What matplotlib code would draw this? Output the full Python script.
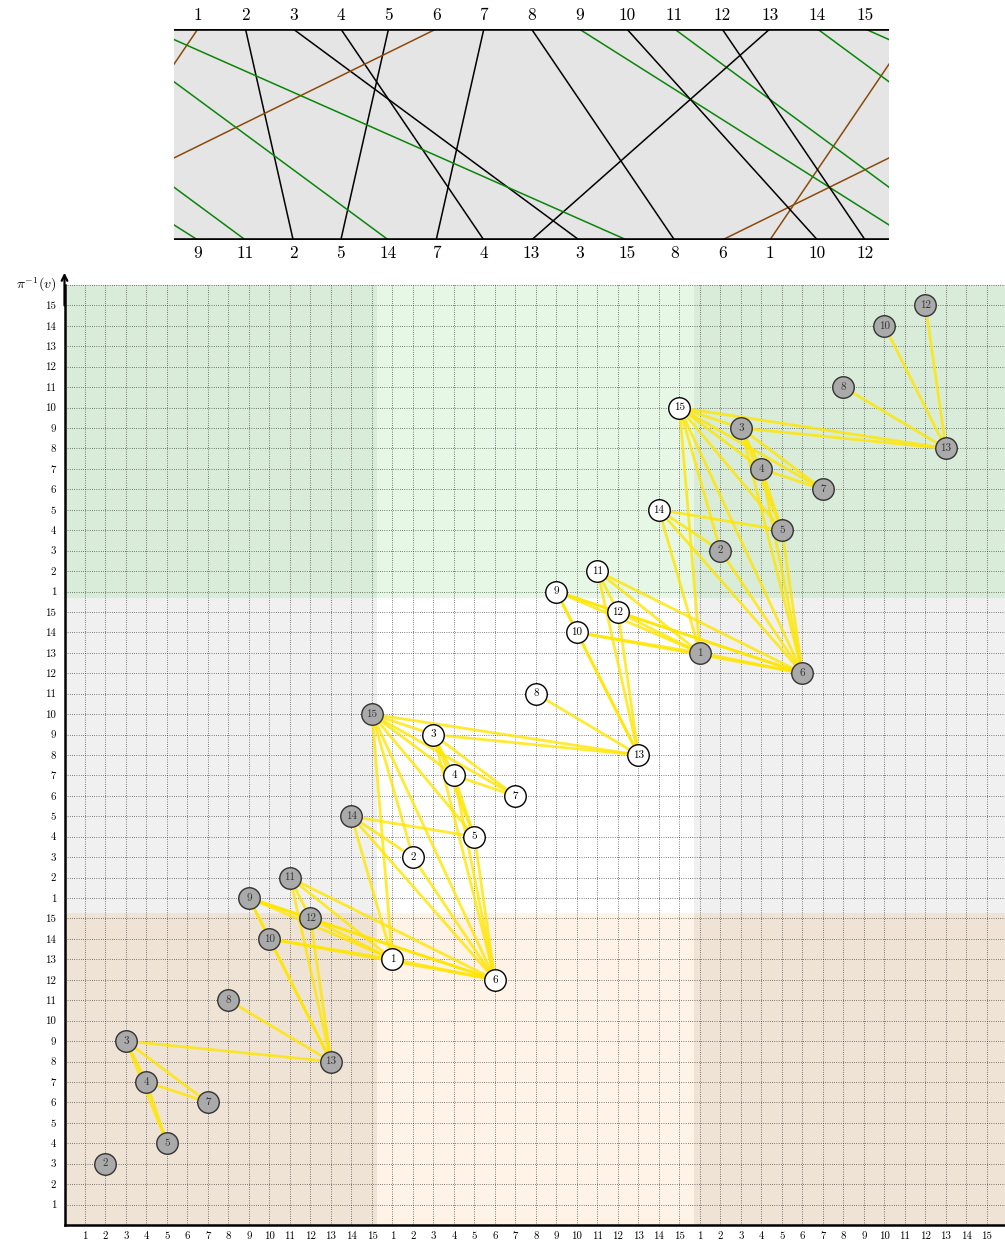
import matplotlib.pyplot as plt
from matplotlib.patches import Rectangle

plt.rcParams['font.family'] = 'cmr10'
plt.rcParams['mathtext.fontset'] = 'cm'
plt.rcParams['axes.unicode_minus'] = False

# bottom row of the cylindrical diagram, read left to right
bottom_order = [9, 11, 2, 5, 14, 7, 4, 13, 3, 15, 8, 6, 1, 10, 12]
values = list(range(1, 16))
wrap_right = [9, 11, 14, 15]   # green strands
wrap_left = [1, 6]             # brown strands
n = 15

# copies of the pattern drawn in the lifted picture
copies = [0, 1, 2]
copy_fill = ['#aaaaaa', 'white', '#aaaaaa']
copy_edge = ['#333333', 'black', '#333333']

# background bands (row colours: bottom, middle, top; side / centre)
band_edges = [0, 15.25, 30.7, 46]
band_side = ['#efe3d6', '#f0f0f0', '#d9ebd9']
band_mid = ['#fff2e6', '#ffffff', '#e6f7e6']

pos = {v: i + 1 for i, v in enumerate(bottom_order)}


def shift(v):
    if v in wrap_right:
        return 1
    if v in wrap_left:
        return -1
    return 0


W, H = 1005, 1240
fig = plt.figure(figsize=(W / 100, H / 100), dpi=100)

# ---- top: permutation on a cylinder ----
ax_top = fig.add_axes([174 / W, 1 - 240 / H, 715 / W, 211 / H])
ax_top.set_xlim(0.5, 15.5)
ax_top.set_ylim(0, 1)
ax_top.set_facecolor('#e5e5e5')
strand_col = {0: 'black', 1: '#0a850a', -1: '#8b4a0b'}
for v in values:
    s = shift(v)
    for off in (-n, 0, n):
        ax_top.plot([v + off, pos[v] + n * s + off], [1, 0],
                    color=strand_col[s], lw=1.1, solid_capstyle='butt')
ax_top.axhline(1, color='black', lw=2.6)
ax_top.axhline(0, color='black', lw=2.6)
for sp in ax_top.spines.values():
    sp.set_visible(False)
ax_top.set_xticks([])
ax_top.set_yticks([])
for v in values:
    ax_top.annotate(str(v), (v, 1), xytext=(0, 10), textcoords='offset points',
                    ha='center', va='center', fontsize=12.5, annotation_clip=False)
for i, v in enumerate(bottom_order):
    ax_top.annotate(str(v), (i + 1, 0), xytext=(0, -9.5), textcoords='offset points',
                    ha='center', va='center', fontsize=12.5, annotation_clip=False)

# ---- bottom: lifted point set with inversion edges ----
ax = fig.add_axes([64.5 / W, 15 / H, (W - 64.5) / W, 940 / H])
ax.set_xlim(0, 45.88)
ax.set_ylim(0, 46)

for r in range(3):
    for c in range(3):
        col = band_mid[r] if c == 1 else band_side[r]
        ax.add_patch(Rectangle((band_edges[c], band_edges[r]),
                               band_edges[c + 1] - band_edges[c],
                               band_edges[r + 1] - band_edges[r],
                               facecolor=col, edgecolor='none', zorder=0))

for gx in range(1, 46):
    ax.axvline(gx, color='#222222', lw=0.55, ls=(0, (0.9, 2.0)), zorder=1)
for gy in range(1, 47):
    ax.axhline(gy, color='#222222', lw=0.55, ls=(0, (0.9, 2.0)), zorder=1)

nodes = []
for k in copies:
    for v in values:
        x = v + n * k
        y = pos[v] + n * (k + shift(v))
        if 1 <= x <= 45 and 1 <= y <= 45:
            nodes.append((x, y, v, k))

for i in range(len(nodes)):
    for j in range(i + 1, len(nodes)):
        x1, y1 = nodes[i][:2]
        x2, y2 = nodes[j][:2]
        if (x1 - x2) * (y1 - y2) < 0:
            ax.plot([x1, x2], [y1, y2], color='#ffe600', lw=2.0, alpha=0.8,
                    zorder=2, solid_capstyle='round')

for x, y, v, k in nodes:
    ax.scatter([x], [y], s=240, facecolor=copy_fill[k], edgecolor=copy_edge[k],
               linewidth=1.0, zorder=3)
    ax.text(x, y, str(v), ha='center', va='center', fontsize=8,
            color=copy_edge[k], zorder=4)

ticks = list(range(1, 46))
ax.set_xticks(ticks)
ax.set_xticklabels([str((t - 1) % n + 1) for t in ticks])
ax.set_yticks(ticks)
ax.set_yticklabels([str((t - 1) % n + 1) for t in ticks])
ax.tick_params(length=0, labelsize=7.8)
ax.tick_params(axis='x', pad=4.5)
ax.tick_params(axis='y', pad=6)
# the next label is cut by the right edge, as in the source picture
ax.annotate('1', (46, 0), xytext=(0, -7.3), textcoords='offset points',
            ha='center', va='center', fontsize=7.8, annotation_clip=False)

ax.spines['top'].set_visible(False)
ax.spines['right'].set_visible(False)
ax.spines['bottom'].set_linewidth(1.8)
ax.spines['left'].set_linewidth(1.8)
ax.spines['bottom'].set_zorder(5)
ax.spines['left'].set_zorder(5)
ax.annotate('', xy=(0, 46.6), xytext=(0, 45.0),
            arrowprops=dict(arrowstyle='->', lw=1.6, color='black',
                            shrinkA=0, shrinkB=0),
            annotation_clip=False)
ax.text(-0.4, 46.0, r'$\pi^{-1}(v)$', ha='right', va='center', fontsize=10)

fig.savefig('out.png', dpi=100)
